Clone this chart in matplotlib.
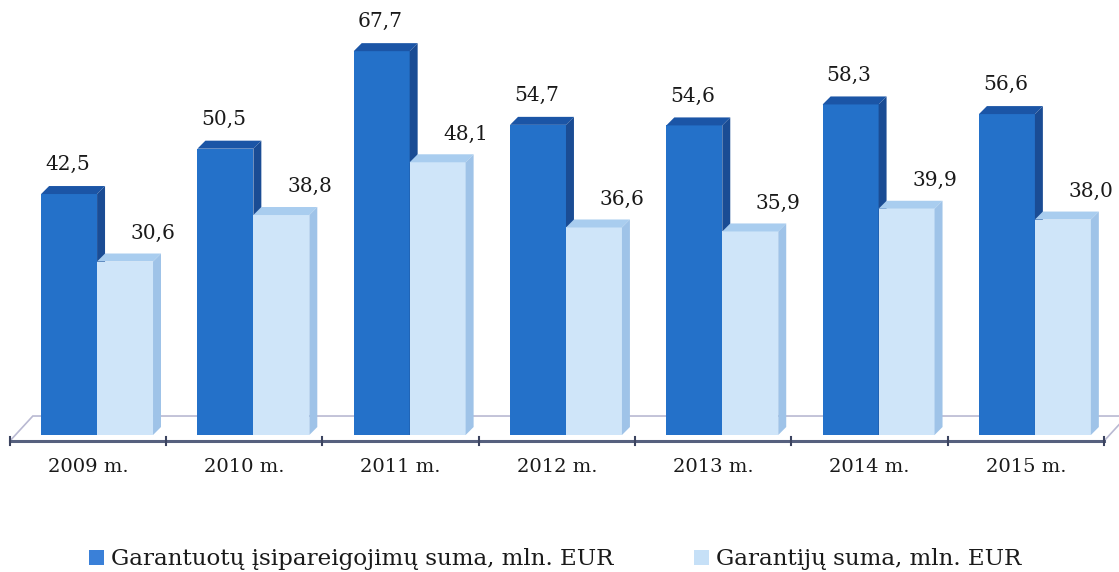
import matplotlib
matplotlib.use('Agg')
import matplotlib.pyplot as plt
import numpy as np
from matplotlib.patches import Polygon, Patch

# data
years = ['2009 m.', '2010 m.', '2011 m.', '2012 m.', '2013 m.', '2014 m.', '2015 m.']
committed = [42.5, 50.5, 67.7, 54.7, 54.6, 58.3, 56.6]
guarantees = [30.6, 38.8, 48.1, 36.6, 35.9, 39.9, 38.0]
series_names = ['Garantuotų įsipareigojimų suma, mln. EUR', 'Garantijų suma, mln. EUR']

# styles: (front, top, side)
dark = ('#2471c9', '#1b55a6', '#1a4c94')
light = ('#cfe5f9', '#a9cdef', '#9fc3e8')

plt.rcParams['font.family'] = ['DejaVu Serif']

fig = plt.figure(figsize=(11.19, 5.72), dpi=100)
ax = fig.add_axes([0, 0, 1, 1])
ax.set_xlim(-0.563, 6.596)
ax.set_ylim(-24.16, 76.72)
ax.axis('off')

width = 0.358
shift = 0.058
ddx = 0.051   # depth, x units
ddy = 1.41    # depth, value units

# floor
fy0, fy1 = -1.06, 3.35
fdx = 0.147
floor = Polygon([(-0.5, fy0), (6.5, fy0), (6.5 + fdx, fy1), (-0.5 + fdx, fy1)],
                closed=True, facecolor='white', edgecolor='#b9b9d2', lw=1.2, zorder=1)
ax.add_patch(floor)
ax.plot([-0.5, 6.5], [fy0, fy0], color='#56607e', lw=2.2, zorder=2)
for t in np.arange(-0.5, 7.0, 1.0):
    ax.plot([t, t], [fy0 - 0.75, fy0 + 0.75], color='#3c4460', lw=1.5, zorder=2)


def bar3d(left, h, cols):
    ax.bar(left, h, width=width, align='edge', color=cols[0], lw=0, zorder=3)
    r = left + width
    ax.add_patch(Polygon([(left, h), (r, h), (r + ddx, h + ddy), (left + ddx, h + ddy)],
                         closed=True, facecolor=cols[1], lw=0, zorder=3))
    ax.add_patch(Polygon([(r, 0), (r + ddx, ddy), (r + ddx, h + ddy), (r, h)],
                         closed=True, facecolor=cols[2], lw=0, zorder=3))


for i in range(len(years)):
    l1 = i + shift - width
    l2 = i + shift
    bar3d(l1, committed[i], dark)
    bar3d(l2, guarantees[i], light)
    ax.text(l1 + width / 2 - 0.01, committed[i] + 5.2, f'{committed[i]:.1f}'.replace('.', ','),
            ha='center', va='center', fontsize=14.5, color='#1a1a1a', zorder=5)
    ax.text(l2 + width / 2 + 0.18, guarantees[i] + 5.0, f'{guarantees[i]:.1f}'.replace('.', ','),
            ha='center', va='center', fontsize=14.5, color='#1a1a1a', zorder=5)
    ax.text(i, -5.64, years[i], ha='center', va='center', fontsize=14, color='#1a1a1a')

handles = [Patch(facecolor='#3a80d8', edgecolor='none'),
           Patch(facecolor='#c6e0f7', edgecolor='none')]
fig.legend(handles, series_names, loc='center', bbox_to_anchor=(0.496, 0.022), ncol=2,
           frameon=False, fontsize=16.6, handlelength=0.65, handleheight=0.65,
           handletextpad=0.3, columnspacing=3.5, labelcolor='#1a1a1a')

fig.savefig('out.png', dpi=100)
